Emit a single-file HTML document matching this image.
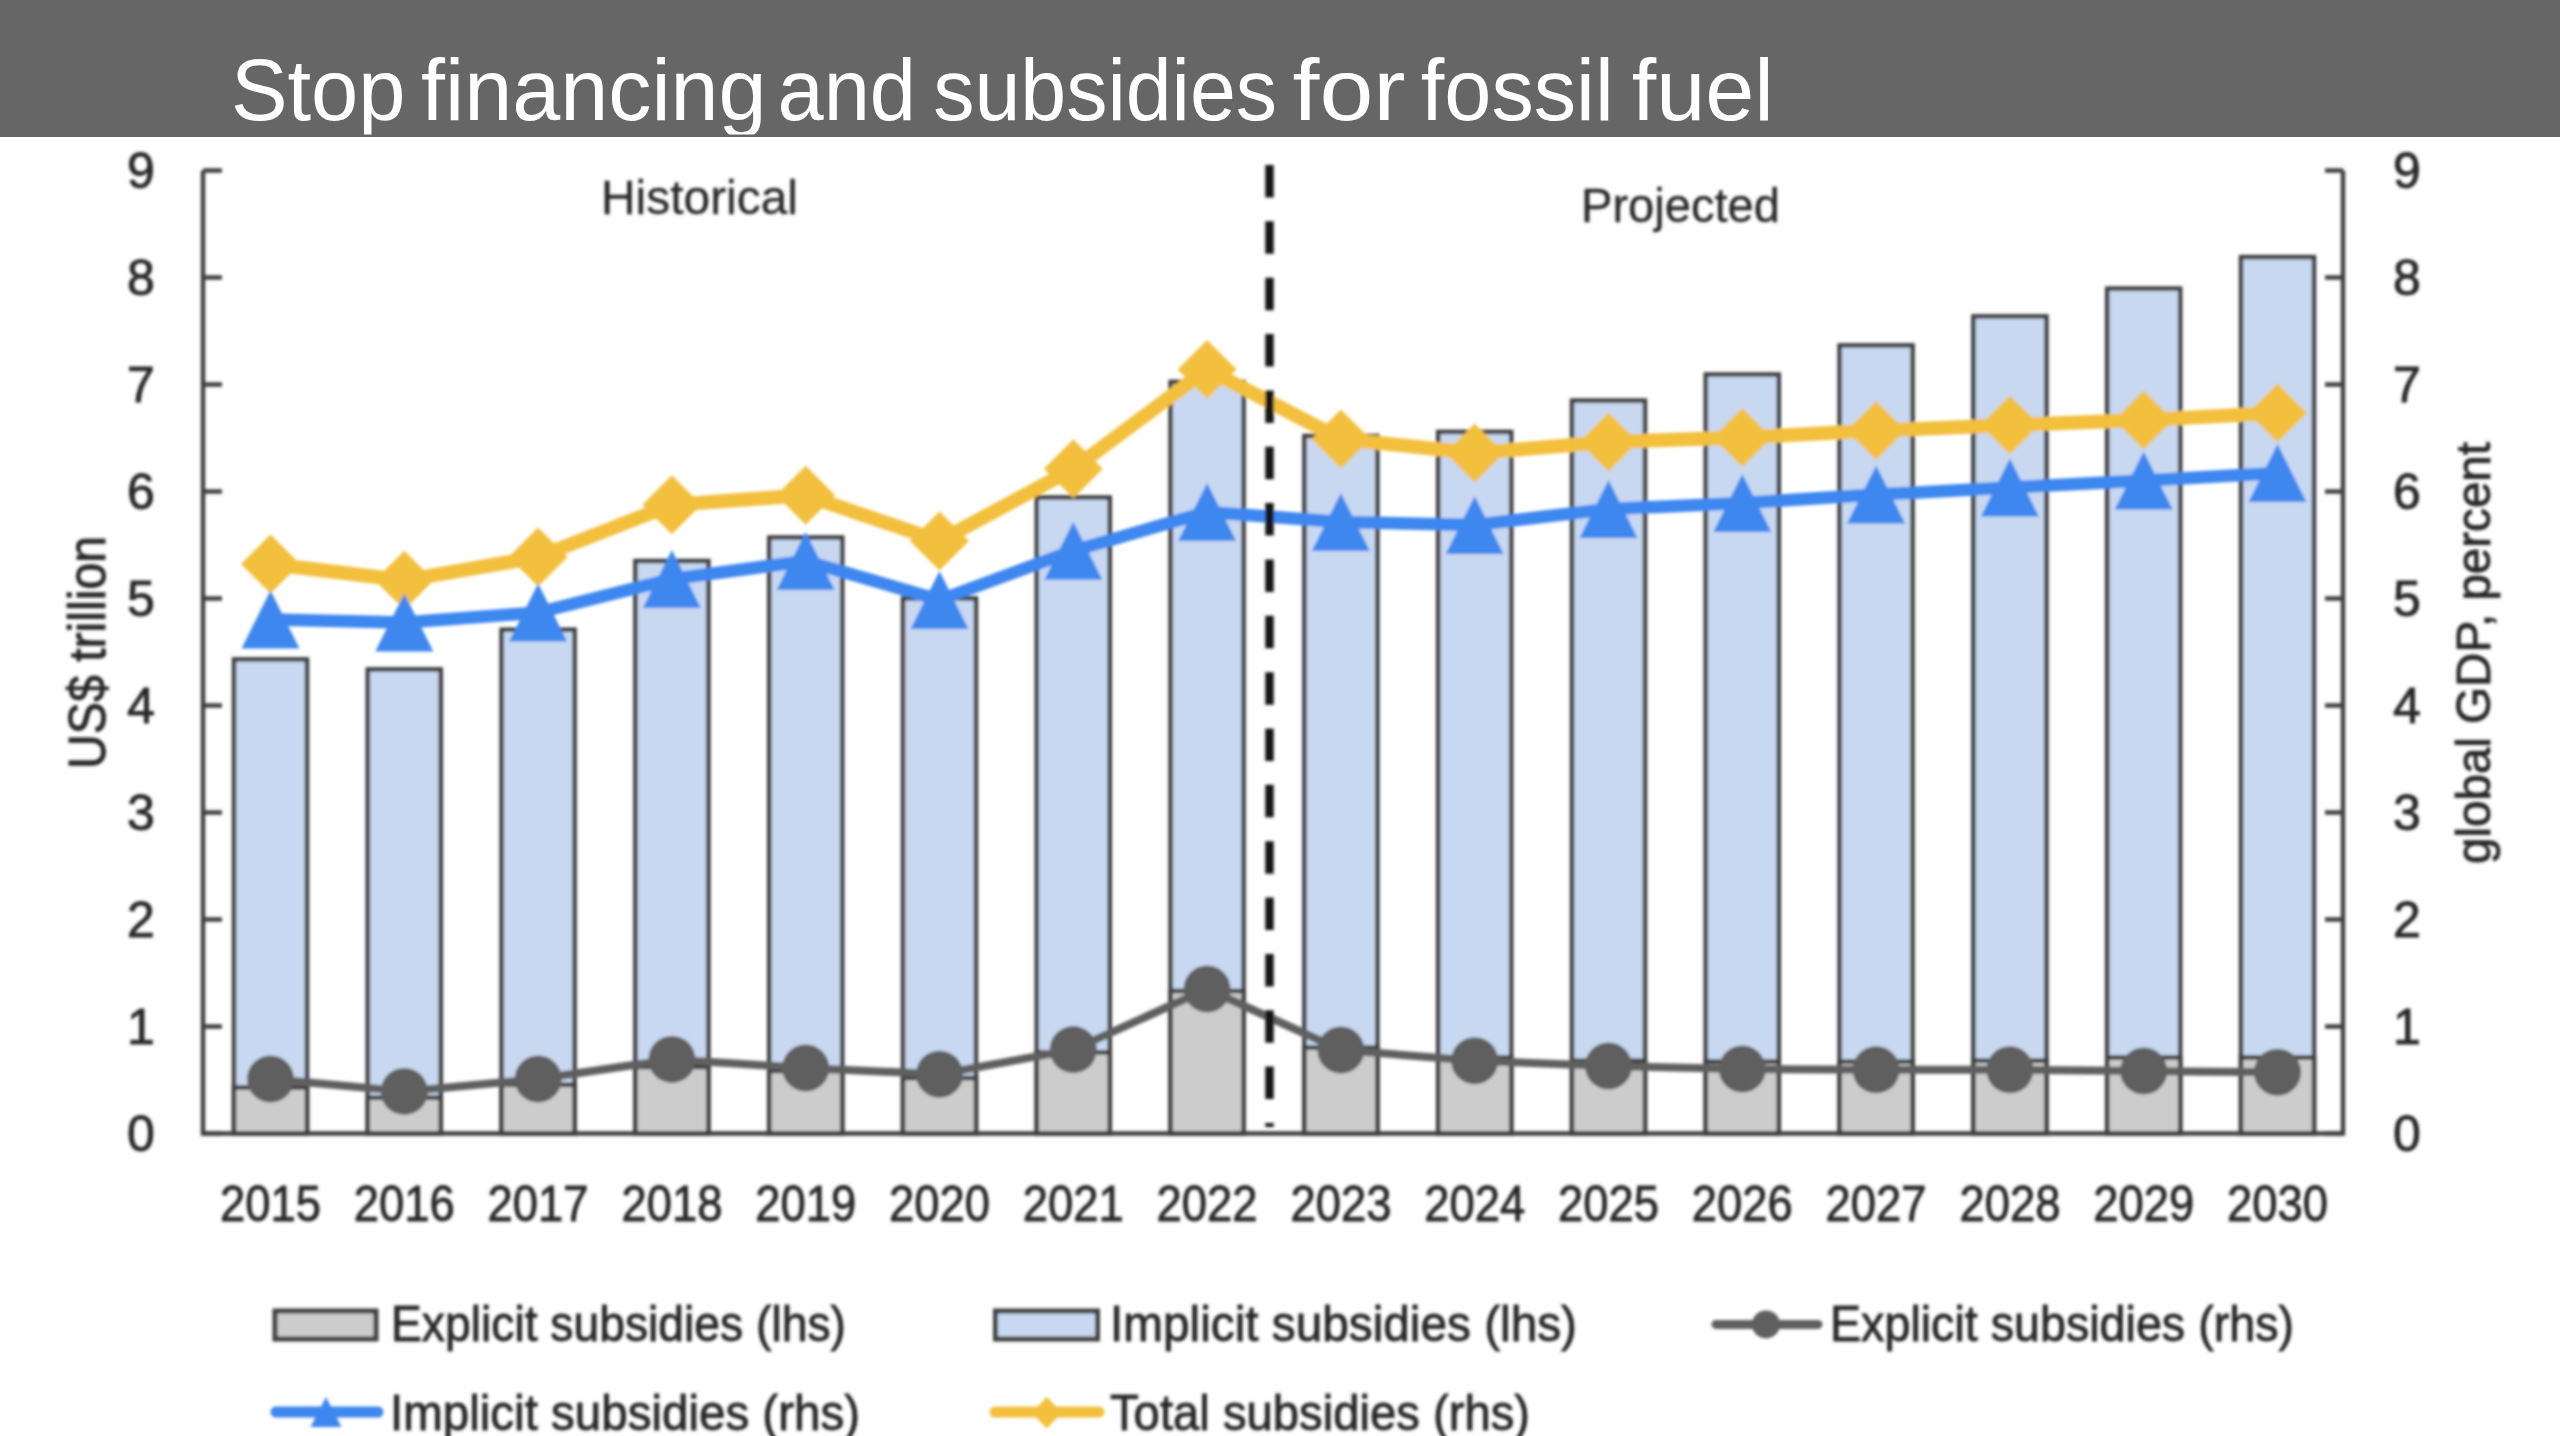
<!DOCTYPE html>
<html><head><meta charset="utf-8"><title>Stop financing and subsidies for fossil fuel</title>
<style>html,body{margin:0;padding:0;background:#fff;overflow:hidden} svg{display:block} text{font-family:"Liberation Sans",sans-serif}</style>
</head><body>
<svg width="2560" height="1436" viewBox="0 0 2560 1436">
<defs><filter id="bl" x="-5%" y="-5%" width="110%" height="110%"><feGaussianBlur stdDeviation="1.5"/></filter><clipPath id="hc"><rect x="0" y="0" width="2560" height="134.5"/></clipPath></defs>
<rect x="0" y="0" width="2560" height="1436" fill="#ffffff"/>
<rect x="0" y="0" width="2560" height="137" fill="#666666"/>
<g clip-path="url(#hc)" fill="#ffffff" font-family="Liberation Sans" font-size="87">
<text x="230.9" y="120" textLength="174.6" lengthAdjust="spacingAndGlyphs">Stop</text>
<text x="421.1" y="120" textLength="345.5" lengthAdjust="spacingAndGlyphs">financing</text>
<text x="777.5" y="120" textLength="138.5" lengthAdjust="spacingAndGlyphs">and</text>
<text x="933.2" y="120" textLength="343.8" lengthAdjust="spacingAndGlyphs">subsidies</text>
<text x="1292.6" y="120" textLength="113.0" lengthAdjust="spacingAndGlyphs">for</text>
<text x="1420.8" y="120" textLength="192.9" lengthAdjust="spacingAndGlyphs">fossil</text>
<text x="1631.8" y="120" textLength="142.1" lengthAdjust="spacingAndGlyphs">fuel</text>
</g>
<g filter="url(#bl)">
<rect x="234.0" y="659.4" width="73" height="474.1" fill="#c8d8f0" stroke="#3f3f3f" stroke-width="4.5"/>
<rect x="234.0" y="1087.5" width="73" height="46.0" fill="#cccccc" stroke="#3f3f3f" stroke-width="4.5"/>
<rect x="367.8" y="669.4" width="73" height="464.1" fill="#c8d8f0" stroke="#3f3f3f" stroke-width="4.5"/>
<rect x="367.8" y="1097.7" width="73" height="35.8" fill="#cccccc" stroke="#3f3f3f" stroke-width="4.5"/>
<rect x="501.6" y="629.7" width="73" height="503.8" fill="#c8d8f0" stroke="#3f3f3f" stroke-width="4.5"/>
<rect x="501.6" y="1084.8" width="73" height="48.7" fill="#cccccc" stroke="#3f3f3f" stroke-width="4.5"/>
<rect x="635.4" y="561.0" width="73" height="572.5" fill="#c8d8f0" stroke="#3f3f3f" stroke-width="4.5"/>
<rect x="635.4" y="1067.0" width="73" height="66.5" fill="#cccccc" stroke="#3f3f3f" stroke-width="4.5"/>
<rect x="769.2" y="537.5" width="73" height="596.0" fill="#c8d8f0" stroke="#3f3f3f" stroke-width="4.5"/>
<rect x="769.2" y="1071.0" width="73" height="62.5" fill="#cccccc" stroke="#3f3f3f" stroke-width="4.5"/>
<rect x="903.0" y="598.4" width="73" height="535.1" fill="#c8d8f0" stroke="#3f3f3f" stroke-width="4.5"/>
<rect x="903.0" y="1078.0" width="73" height="55.5" fill="#cccccc" stroke="#3f3f3f" stroke-width="4.5"/>
<rect x="1036.8" y="497.5" width="73" height="636.0" fill="#c8d8f0" stroke="#3f3f3f" stroke-width="4.5"/>
<rect x="1036.8" y="1052.3" width="73" height="81.2" fill="#cccccc" stroke="#3f3f3f" stroke-width="4.5"/>
<rect x="1170.6" y="381.9" width="73" height="751.6" fill="#c8d8f0" stroke="#3f3f3f" stroke-width="4.5"/>
<rect x="1170.6" y="991.0" width="73" height="142.5" fill="#cccccc" stroke="#3f3f3f" stroke-width="4.5"/>
<rect x="1304.4" y="436.0" width="73" height="697.5" fill="#c8d8f0" stroke="#3f3f3f" stroke-width="4.5"/>
<rect x="1304.4" y="1047.6" width="73" height="85.9" fill="#cccccc" stroke="#3f3f3f" stroke-width="4.5"/>
<rect x="1438.2" y="431.9" width="73" height="701.6" fill="#c8d8f0" stroke="#3f3f3f" stroke-width="4.5"/>
<rect x="1438.2" y="1057.5" width="73" height="76.0" fill="#cccccc" stroke="#3f3f3f" stroke-width="4.5"/>
<rect x="1572.0" y="400.6" width="73" height="732.9" fill="#c8d8f0" stroke="#3f3f3f" stroke-width="4.5"/>
<rect x="1572.0" y="1060.7" width="73" height="72.8" fill="#cccccc" stroke="#3f3f3f" stroke-width="4.5"/>
<rect x="1705.8" y="374.5" width="73" height="759.0" fill="#c8d8f0" stroke="#3f3f3f" stroke-width="4.5"/>
<rect x="1705.8" y="1061.6" width="73" height="71.9" fill="#cccccc" stroke="#3f3f3f" stroke-width="4.5"/>
<rect x="1839.6" y="345.4" width="73" height="788.1" fill="#c8d8f0" stroke="#3f3f3f" stroke-width="4.5"/>
<rect x="1839.6" y="1061.6" width="73" height="71.9" fill="#cccccc" stroke="#3f3f3f" stroke-width="4.5"/>
<rect x="1973.4" y="316.4" width="73" height="817.1" fill="#c8d8f0" stroke="#3f3f3f" stroke-width="4.5"/>
<rect x="1973.4" y="1060.7" width="73" height="72.8" fill="#cccccc" stroke="#3f3f3f" stroke-width="4.5"/>
<rect x="2107.2" y="288.6" width="73" height="844.9" fill="#c8d8f0" stroke="#3f3f3f" stroke-width="4.5"/>
<rect x="2107.2" y="1057.5" width="73" height="76.0" fill="#cccccc" stroke="#3f3f3f" stroke-width="4.5"/>
<rect x="2241.0" y="257.1" width="73" height="876.4" fill="#c8d8f0" stroke="#3f3f3f" stroke-width="4.5"/>
<rect x="2241.0" y="1057.5" width="73" height="76.0" fill="#cccccc" stroke="#3f3f3f" stroke-width="4.5"/>
<path d="M203,170.5 V1133.5 H2343 V170.5" fill="none" stroke="#3f3f3f" stroke-width="4.5"/>
<path d="M203,1133.5 H222 M2343,1133.5 H2325" stroke="#3f3f3f" stroke-width="4.5"/>
<path d="M203,1026.5 H222 M2343,1026.5 H2325" stroke="#3f3f3f" stroke-width="4.5"/>
<path d="M203,919.5 H222 M2343,919.5 H2325" stroke="#3f3f3f" stroke-width="4.5"/>
<path d="M203,812.5 H222 M2343,812.5 H2325" stroke="#3f3f3f" stroke-width="4.5"/>
<path d="M203,705.5 H222 M2343,705.5 H2325" stroke="#3f3f3f" stroke-width="4.5"/>
<path d="M203,598.5 H222 M2343,598.5 H2325" stroke="#3f3f3f" stroke-width="4.5"/>
<path d="M203,491.5 H222 M2343,491.5 H2325" stroke="#3f3f3f" stroke-width="4.5"/>
<path d="M203,384.5 H222 M2343,384.5 H2325" stroke="#3f3f3f" stroke-width="4.5"/>
<path d="M203,277.5 H222 M2343,277.5 H2325" stroke="#3f3f3f" stroke-width="4.5"/>
<path d="M203,170.5 H222 M2343,170.5 H2325" stroke="#3f3f3f" stroke-width="4.5"/>
<polyline points="270.5,1079.0 404.3,1091.4 538.1,1079.0 671.9,1059.4 805.7,1068.0 939.5,1074.2 1073.3,1049.6 1207.1,989.0 1340.9,1050.0 1474.7,1060.7 1608.5,1066.0 1742.3,1069.0 1876.1,1069.8 2009.9,1069.8 2143.7,1071.0 2277.5,1072.2" fill="none" stroke="#5f5f5f" stroke-width="8" stroke-linejoin="round"/>
<circle cx="270.5" cy="1079.0" r="23.5" fill="#5f5f5f"/>
<circle cx="404.3" cy="1091.4" r="23.5" fill="#5f5f5f"/>
<circle cx="538.1" cy="1079.0" r="23.5" fill="#5f5f5f"/>
<circle cx="671.9" cy="1059.4" r="23.5" fill="#5f5f5f"/>
<circle cx="805.7" cy="1068.0" r="23.5" fill="#5f5f5f"/>
<circle cx="939.5" cy="1074.2" r="23.5" fill="#5f5f5f"/>
<circle cx="1073.3" cy="1049.6" r="23.5" fill="#5f5f5f"/>
<circle cx="1207.1" cy="989.0" r="23.5" fill="#5f5f5f"/>
<circle cx="1340.9" cy="1050.0" r="23.5" fill="#5f5f5f"/>
<circle cx="1474.7" cy="1060.7" r="23.5" fill="#5f5f5f"/>
<circle cx="1608.5" cy="1066.0" r="23.5" fill="#5f5f5f"/>
<circle cx="1742.3" cy="1069.0" r="23.5" fill="#5f5f5f"/>
<circle cx="1876.1" cy="1069.8" r="23.5" fill="#5f5f5f"/>
<circle cx="2009.9" cy="1069.8" r="23.5" fill="#5f5f5f"/>
<circle cx="2143.7" cy="1071.0" r="23.5" fill="#5f5f5f"/>
<circle cx="2277.5" cy="1072.2" r="23.5" fill="#5f5f5f"/>
<polyline points="270.5,564.0 404.3,580.3 538.1,557.0 671.9,504.7 805.7,495.3 939.5,541.0 1073.3,468.8 1207.1,369.4 1340.9,439.0 1474.7,453.0 1608.5,442.0 1742.3,437.5 1876.1,430.6 2009.9,425.0 2143.7,420.0 2277.5,413.0" fill="none" stroke="#f3c03c" stroke-width="14" stroke-linejoin="round"/>
<path d="M270.5,534.5 L300.0,564.0 L270.5,593.5 L241.0,564.0 Z" fill="#f3c03c"/>
<path d="M404.3,550.8 L433.8,580.3 L404.3,609.8 L374.8,580.3 Z" fill="#f3c03c"/>
<path d="M538.1,527.5 L567.6,557.0 L538.1,586.5 L508.6,557.0 Z" fill="#f3c03c"/>
<path d="M671.9,475.2 L701.4,504.7 L671.9,534.2 L642.4,504.7 Z" fill="#f3c03c"/>
<path d="M805.7,465.8 L835.2,495.3 L805.7,524.8 L776.2,495.3 Z" fill="#f3c03c"/>
<path d="M939.5,511.5 L969.0,541.0 L939.5,570.5 L910.0,541.0 Z" fill="#f3c03c"/>
<path d="M1073.3,439.2 L1102.8,468.8 L1073.3,498.2 L1043.8,468.8 Z" fill="#f3c03c"/>
<path d="M1207.1,339.9 L1236.6,369.4 L1207.1,398.9 L1177.6,369.4 Z" fill="#f3c03c"/>
<path d="M1340.9,409.5 L1370.4,439.0 L1340.9,468.5 L1311.4,439.0 Z" fill="#f3c03c"/>
<path d="M1474.7,423.5 L1504.2,453.0 L1474.7,482.5 L1445.2,453.0 Z" fill="#f3c03c"/>
<path d="M1608.5,412.5 L1638.0,442.0 L1608.5,471.5 L1579.0,442.0 Z" fill="#f3c03c"/>
<path d="M1742.3,408.0 L1771.8,437.5 L1742.3,467.0 L1712.8,437.5 Z" fill="#f3c03c"/>
<path d="M1876.1,401.1 L1905.6,430.6 L1876.1,460.1 L1846.6,430.6 Z" fill="#f3c03c"/>
<path d="M2009.9,395.5 L2039.4,425.0 L2009.9,454.5 L1980.4,425.0 Z" fill="#f3c03c"/>
<path d="M2143.7,390.5 L2173.2,420.0 L2143.7,449.5 L2114.2,420.0 Z" fill="#f3c03c"/>
<path d="M2277.5,383.5 L2307.0,413.0 L2277.5,442.5 L2248.0,413.0 Z" fill="#f3c03c"/>
<polyline points="270.5,619.5 404.3,622.5 538.1,612.5 671.9,579.0 805.7,561.0 939.5,600.0 1073.3,550.7 1207.1,512.0 1340.9,522.0 1474.7,525.0 1608.5,509.0 1742.3,503.0 1876.1,494.6 2009.9,487.6 2143.7,480.6 2277.5,473.0" fill="none" stroke="#3c87ef" stroke-width="12.5" stroke-linejoin="round"/>
<path d="M270.5,590.5 L299.5,648.5 L241.5,648.5 Z" fill="#3c87ef"/>
<path d="M404.3,593.5 L433.3,651.5 L375.3,651.5 Z" fill="#3c87ef"/>
<path d="M538.1,583.5 L567.1,641.5 L509.1,641.5 Z" fill="#3c87ef"/>
<path d="M671.9,550.0 L700.9,608.0 L642.9,608.0 Z" fill="#3c87ef"/>
<path d="M805.7,532.0 L834.7,590.0 L776.7,590.0 Z" fill="#3c87ef"/>
<path d="M939.5,571.0 L968.5,629.0 L910.5,629.0 Z" fill="#3c87ef"/>
<path d="M1073.3,521.7 L1102.3,579.7 L1044.3,579.7 Z" fill="#3c87ef"/>
<path d="M1207.1,483.0 L1236.1,541.0 L1178.1,541.0 Z" fill="#3c87ef"/>
<path d="M1340.9,493.0 L1369.9,551.0 L1311.9,551.0 Z" fill="#3c87ef"/>
<path d="M1474.7,496.0 L1503.7,554.0 L1445.7,554.0 Z" fill="#3c87ef"/>
<path d="M1608.5,480.0 L1637.5,538.0 L1579.5,538.0 Z" fill="#3c87ef"/>
<path d="M1742.3,474.0 L1771.3,532.0 L1713.3,532.0 Z" fill="#3c87ef"/>
<path d="M1876.1,465.6 L1905.1,523.6 L1847.1,523.6 Z" fill="#3c87ef"/>
<path d="M2009.9,458.6 L2038.9,516.6 L1980.9,516.6 Z" fill="#3c87ef"/>
<path d="M2143.7,451.6 L2172.7,509.6 L2114.7,509.6 Z" fill="#3c87ef"/>
<path d="M2277.5,444.0 L2306.5,502.0 L2248.5,502.0 Z" fill="#3c87ef"/>
<path d="M1269.5,165 V1127" stroke="#151515" stroke-width="8.5" stroke-dasharray="32.5 23.85" />
<text x="141" y="1150.5" font-family="Liberation Sans" stroke="#2b2b2b" stroke-width="0.9" font-size="50" fill="#262626" text-anchor="middle">0</text>
<text x="2407" y="1150.5" font-family="Liberation Sans" stroke="#2b2b2b" stroke-width="0.9" font-size="50" fill="#262626" text-anchor="middle">0</text>
<text x="141" y="1043.5" font-family="Liberation Sans" stroke="#2b2b2b" stroke-width="0.9" font-size="50" fill="#262626" text-anchor="middle">1</text>
<text x="2407" y="1043.5" font-family="Liberation Sans" stroke="#2b2b2b" stroke-width="0.9" font-size="50" fill="#262626" text-anchor="middle">1</text>
<text x="141" y="936.5" font-family="Liberation Sans" stroke="#2b2b2b" stroke-width="0.9" font-size="50" fill="#262626" text-anchor="middle">2</text>
<text x="2407" y="936.5" font-family="Liberation Sans" stroke="#2b2b2b" stroke-width="0.9" font-size="50" fill="#262626" text-anchor="middle">2</text>
<text x="141" y="829.5" font-family="Liberation Sans" stroke="#2b2b2b" stroke-width="0.9" font-size="50" fill="#262626" text-anchor="middle">3</text>
<text x="2407" y="829.5" font-family="Liberation Sans" stroke="#2b2b2b" stroke-width="0.9" font-size="50" fill="#262626" text-anchor="middle">3</text>
<text x="141" y="722.5" font-family="Liberation Sans" stroke="#2b2b2b" stroke-width="0.9" font-size="50" fill="#262626" text-anchor="middle">4</text>
<text x="2407" y="722.5" font-family="Liberation Sans" stroke="#2b2b2b" stroke-width="0.9" font-size="50" fill="#262626" text-anchor="middle">4</text>
<text x="141" y="615.5" font-family="Liberation Sans" stroke="#2b2b2b" stroke-width="0.9" font-size="50" fill="#262626" text-anchor="middle">5</text>
<text x="2407" y="615.5" font-family="Liberation Sans" stroke="#2b2b2b" stroke-width="0.9" font-size="50" fill="#262626" text-anchor="middle">5</text>
<text x="141" y="508.5" font-family="Liberation Sans" stroke="#2b2b2b" stroke-width="0.9" font-size="50" fill="#262626" text-anchor="middle">6</text>
<text x="2407" y="508.5" font-family="Liberation Sans" stroke="#2b2b2b" stroke-width="0.9" font-size="50" fill="#262626" text-anchor="middle">6</text>
<text x="141" y="401.5" font-family="Liberation Sans" stroke="#2b2b2b" stroke-width="0.9" font-size="50" fill="#262626" text-anchor="middle">7</text>
<text x="2407" y="401.5" font-family="Liberation Sans" stroke="#2b2b2b" stroke-width="0.9" font-size="50" fill="#262626" text-anchor="middle">7</text>
<text x="141" y="294.5" font-family="Liberation Sans" stroke="#2b2b2b" stroke-width="0.9" font-size="50" fill="#262626" text-anchor="middle">8</text>
<text x="2407" y="294.5" font-family="Liberation Sans" stroke="#2b2b2b" stroke-width="0.9" font-size="50" fill="#262626" text-anchor="middle">8</text>
<text x="141" y="187.5" font-family="Liberation Sans" stroke="#2b2b2b" stroke-width="0.9" font-size="50" fill="#262626" text-anchor="middle">9</text>
<text x="2407" y="187.5" font-family="Liberation Sans" stroke="#2b2b2b" stroke-width="0.9" font-size="50" fill="#262626" text-anchor="middle">9</text>
<text x="270.5" y="1221" font-family="Liberation Sans" stroke="#2b2b2b" stroke-width="0.9" font-size="50" fill="#262626" text-anchor="middle" textLength="101" lengthAdjust="spacingAndGlyphs">2015</text>
<text x="404.3" y="1221" font-family="Liberation Sans" stroke="#2b2b2b" stroke-width="0.9" font-size="50" fill="#262626" text-anchor="middle" textLength="101" lengthAdjust="spacingAndGlyphs">2016</text>
<text x="538.1" y="1221" font-family="Liberation Sans" stroke="#2b2b2b" stroke-width="0.9" font-size="50" fill="#262626" text-anchor="middle" textLength="101" lengthAdjust="spacingAndGlyphs">2017</text>
<text x="671.9" y="1221" font-family="Liberation Sans" stroke="#2b2b2b" stroke-width="0.9" font-size="50" fill="#262626" text-anchor="middle" textLength="101" lengthAdjust="spacingAndGlyphs">2018</text>
<text x="805.7" y="1221" font-family="Liberation Sans" stroke="#2b2b2b" stroke-width="0.9" font-size="50" fill="#262626" text-anchor="middle" textLength="101" lengthAdjust="spacingAndGlyphs">2019</text>
<text x="939.5" y="1221" font-family="Liberation Sans" stroke="#2b2b2b" stroke-width="0.9" font-size="50" fill="#262626" text-anchor="middle" textLength="101" lengthAdjust="spacingAndGlyphs">2020</text>
<text x="1073.3" y="1221" font-family="Liberation Sans" stroke="#2b2b2b" stroke-width="0.9" font-size="50" fill="#262626" text-anchor="middle" textLength="101" lengthAdjust="spacingAndGlyphs">2021</text>
<text x="1207.1" y="1221" font-family="Liberation Sans" stroke="#2b2b2b" stroke-width="0.9" font-size="50" fill="#262626" text-anchor="middle" textLength="101" lengthAdjust="spacingAndGlyphs">2022</text>
<text x="1340.9" y="1221" font-family="Liberation Sans" stroke="#2b2b2b" stroke-width="0.9" font-size="50" fill="#262626" text-anchor="middle" textLength="101" lengthAdjust="spacingAndGlyphs">2023</text>
<text x="1474.7" y="1221" font-family="Liberation Sans" stroke="#2b2b2b" stroke-width="0.9" font-size="50" fill="#262626" text-anchor="middle" textLength="101" lengthAdjust="spacingAndGlyphs">2024</text>
<text x="1608.5" y="1221" font-family="Liberation Sans" stroke="#2b2b2b" stroke-width="0.9" font-size="50" fill="#262626" text-anchor="middle" textLength="101" lengthAdjust="spacingAndGlyphs">2025</text>
<text x="1742.3" y="1221" font-family="Liberation Sans" stroke="#2b2b2b" stroke-width="0.9" font-size="50" fill="#262626" text-anchor="middle" textLength="101" lengthAdjust="spacingAndGlyphs">2026</text>
<text x="1876.1" y="1221" font-family="Liberation Sans" stroke="#2b2b2b" stroke-width="0.9" font-size="50" fill="#262626" text-anchor="middle" textLength="101" lengthAdjust="spacingAndGlyphs">2027</text>
<text x="2009.9" y="1221" font-family="Liberation Sans" stroke="#2b2b2b" stroke-width="0.9" font-size="50" fill="#262626" text-anchor="middle" textLength="101" lengthAdjust="spacingAndGlyphs">2028</text>
<text x="2143.7" y="1221" font-family="Liberation Sans" stroke="#2b2b2b" stroke-width="0.9" font-size="50" fill="#262626" text-anchor="middle" textLength="101" lengthAdjust="spacingAndGlyphs">2029</text>
<text x="2277.5" y="1221" font-family="Liberation Sans" stroke="#2b2b2b" stroke-width="0.9" font-size="50" fill="#262626" text-anchor="middle" textLength="101" lengthAdjust="spacingAndGlyphs">2030</text>
<text x="601" y="213.5" font-family="Liberation Sans" stroke="#2b2b2b" stroke-width="0.3" font-size="48" fill="#262626" textLength="197" lengthAdjust="spacingAndGlyphs">Historical</text>
<text x="1581" y="222" font-family="Liberation Sans" stroke="#2b2b2b" stroke-width="0.3" font-size="48" fill="#262626" textLength="199" lengthAdjust="spacingAndGlyphs">Projected</text>
<text transform="translate(105,769) rotate(-90)" font-family="Liberation Sans" stroke="#2b2b2b" stroke-width="0.9" font-size="51" fill="#262626" textLength="233" lengthAdjust="spacingAndGlyphs">US$ trillion</text>
<text transform="translate(2490,864) rotate(-90)" font-family="Liberation Sans" stroke="#2b2b2b" stroke-width="0.9" font-size="49" fill="#262626" textLength="422" lengthAdjust="spacingAndGlyphs">global GDP, percent</text>
<rect x="275" y="1311" width="101" height="28" fill="#cccccc" stroke="#3f3f3f" stroke-width="5"/>
<text x="391" y="1341" font-family="Liberation Sans" stroke="#2b2b2b" stroke-width="0.9" font-size="50" fill="#262626" textLength="455" lengthAdjust="spacingAndGlyphs">Explicit subsidies (lhs)</text>
<rect x="995.5" y="1311" width="102" height="28" fill="#c8d8f0" stroke="#3f3f3f" stroke-width="5"/>
<text x="1110" y="1341" font-family="Liberation Sans" stroke="#2b2b2b" stroke-width="0.9" font-size="50" fill="#262626" textLength="467" lengthAdjust="spacingAndGlyphs">Implicit subsidies (lhs)</text>
<path d="M1716,1324.4 H1818" stroke="#5f5f5f" stroke-width="9" stroke-linecap="round"/>
<circle cx="1766" cy="1324.4" r="14" fill="#5f5f5f"/>
<text x="1830" y="1341" font-family="Liberation Sans" stroke="#2b2b2b" stroke-width="0.9" font-size="50" fill="#262626" textLength="464" lengthAdjust="spacingAndGlyphs">Explicit subsidies (rhs)</text>
<path d="M276,1412 H378" stroke="#3c87ef" stroke-width="11" stroke-linecap="round"/>
<path d="M326,1397 L341.5,1427 L310.5,1427 Z" fill="#3c87ef"/>
<text x="390" y="1430" font-family="Liberation Sans" stroke="#2b2b2b" stroke-width="0.9" font-size="50" fill="#262626" textLength="470" lengthAdjust="spacingAndGlyphs">Implicit subsidies (rhs)</text>
<path d="M995,1412 H1099" stroke="#f3c03c" stroke-width="11" stroke-linecap="round"/>
<path d="M1046.8,1397 L1062,1412.7 L1046.8,1428.5 L1031.6,1412.7 Z" fill="#f3c03c"/>
<text x="1110" y="1430" font-family="Liberation Sans" stroke="#2b2b2b" stroke-width="0.9" font-size="50" fill="#262626" textLength="420" lengthAdjust="spacingAndGlyphs">Total subsidies (rhs)</text>
</g>
</svg>
</body></html>
